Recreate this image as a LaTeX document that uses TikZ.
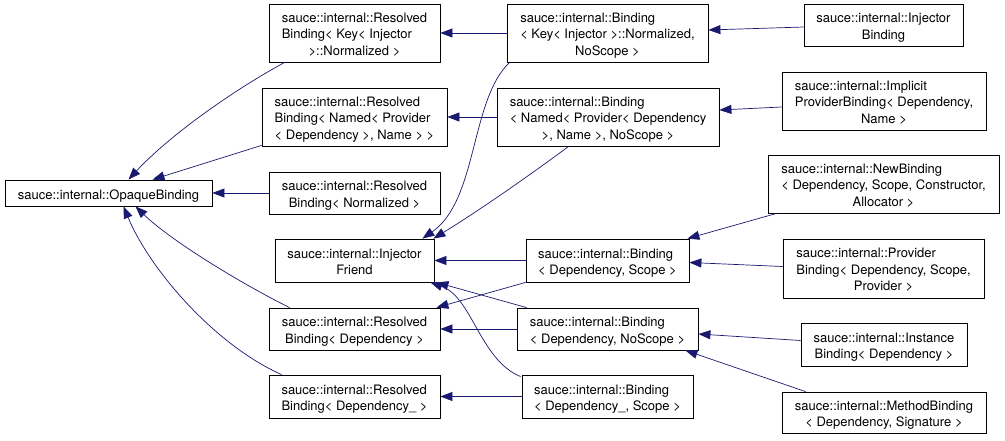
\documentclass[tikz,border=0pt]{standalone}
\usepackage{fontspec}
\setmainfont{TeX Gyre Heros}
\usepackage{tikz}
\usetikzlibrary{calc,arrows.meta}
\definecolor{edgeblue}{RGB}{25,25,112}
% first lines flush left, last line centred
\newcommand{\classlabel}[2]{\raisebox{-2.5pt}[\height][\depth]{\begin{tabular}{@{}l@{}}#1\\\multicolumn{1}{@{}c@{}}{#2}\end{tabular}}}
\tikzset{
  % Two styles for the graph: class boxes and inheritance edges
  class node/.style 2 args={rectangle,draw,fill=white,line width=0.8pt,inner sep=0,minimum width=#1,minimum height=#2},
  inherit/.style={draw=edgeblue,line width=0.7pt,-{Triangle[length=12pt,width=9pt]}}
}

\begin{document}
\begin{tikzpicture}[x=1pt,y=-1pt,font=\fontsize{13}{16.5}\selectfont]
  \useasboundingbox (0,0) rectangle (1005,441);
  % The classes
  \node(opq)[class node={207pt}{26pt}] at (108.5,193) {\raisebox{-3.5pt}[\height][\depth]{sauce::internal::OpaqueBinding}};
  \node(rbKey)[class node={171pt}{58pt}] at (354.5,33) {\classlabel{sauce::internal::Resolved\\Binding< Key< Injector}{>::Normalized >}};
  \node(rbNamed)[class node={185pt}{58pt}] at (354.5,117) {\classlabel{sauce::internal::Resolved\\Binding< Named< Provider}{< Dependency >, Name > >}};
  \node(rbNorm)[class node={171pt}{42pt}] at (354.5,193) {\classlabel{sauce::internal::Resolved}{Binding< Normalized >}};
  \node(injFriend)[class node={159pt}{43pt}] at (354.5,260.5) {\classlabel{sauce::internal::Injector}{Friend}};
  \node(rbDep)[class node={171pt}{42pt}] at (354.5,329) {\classlabel{sauce::internal::Resolved}{Binding< Dependency >}};
  \node(rbDepU)[class node={171pt}{43pt}] at (354.5,396.5) {\classlabel{sauce::internal::Resolved}{Binding< Dependency\_ >}};
  \node(bKey)[class node={201pt}{58pt}] at (607.5,33) {\classlabel{sauce::internal::Binding\\< Key< Injector >::Normalized,}{NoScope >}};
  \node(bNamed)[class node={222pt}{58pt}] at (608,117) {\classlabel{sauce::internal::Binding\\< Named< Provider< Dependency}{>, Name >, NoScope >}};
  \node(bDepScope)[class node={163pt}{43pt}] at (607.5,260.5) {\classlabel{sauce::internal::Binding}{< Dependency, Scope >}};
  \node(bDepNo)[class node={181pt}{42pt}] at (607.5,329) {\classlabel{sauce::internal::Binding}{< Dependency, NoScope >}};
  \node(bDepUScope)[class node={171pt}{43pt}] at (607.5,396.5) {\classlabel{sauce::internal::Binding}{< Dependency\_, Scope >}};
  \node(injBind)[class node={159pt}{42pt}] at (883.5,25) {\classlabel{sauce::internal::Injector}{Binding}};
  \node(implBind)[class node={204pt}{58pt}] at (884,101) {\classlabel{sauce::internal::Implicit\\ProviderBinding< Dependency,}{Name >}};
  \node(newBind)[class node={231pt}{58pt}] at (883.5,184) {\classlabel{sauce::internal::NewBinding\\< Dependency, Scope, Constructor,}{Allocator >}};
  \node(provBind)[class node={201pt}{59pt}] at (883.5,268.5) {\classlabel{sauce::internal::Provider\\Binding< Dependency, Scope,}{Provider >}};
  \node(instBind)[class node={166pt}{43pt}] at (884,344.5) {\classlabel{sauce::internal::Instance}{Binding< Dependency >}};
  \node(methBind)[class node={204pt}{41pt}] at (884,412.5) {\classlabel{sauce::internal::MethodBinding}{< Dependency, Signature >}};
  % base class OpaqueBinding
  \draw[inherit] ($(rbKey.south west)+(16,0)$) .. controls (225,95) and (165,140) .. ($(opq.north)+(20,0)$);
  \draw[inherit] ($(rbNamed.south west)+(0,-1)$) -- ($(opq.north)+(44,0)$);
  \draw[inherit] (rbNorm.west) -- (opq.east);
  \draw[inherit] ($(rbDep.north west)+(21,0)$) .. controls (240,283) and (170,240) .. ($(opq.south)+(27,0)$);
  \draw[inherit] ($(rbDepU.north west)+(13,0)$) .. controls (215,345) and (150,270) .. ($(opq.south)+(15,0)$);
  % the Binding classes
  \draw[inherit] (bKey.west) -- (rbKey.east);
  \draw[inherit] (bNamed.west) -- (rbNamed.east);
  \draw[inherit] ($(bKey.south west)+(3,0)$) .. controls (470,100) and (478,200) .. ($(injFriend.north east)+(-12,0)$);
  \draw[inherit] ($(bNamed.south west)+(72,0)$) .. controls (530,175) and (480,210) .. ($(injFriend.north east)+(-1,0)$);
  \draw[inherit] (bDepScope.west) -- (injFriend.east);
  \draw[inherit] (bDepScope.south west) -- ($(rbDep.north east)+(-4,0)$);
  \draw[inherit] ($(bDepNo.north west)+(10,0)$) -- ($(injFriend.south east)+(2,0)$);
  \draw[inherit] (bDepNo.west) -- (rbDep.east);
  \draw[inherit] ($(bDepUScope.north west)+(-1,2)$) .. controls (480,360) and (472,297) .. ($(injFriend.south east)+(-4,0)$);
  \draw[inherit] (bDepUScope.west) -- (rbDepU.east);
  % the leaves
  \draw[inherit] ($(injBind.west)+(0,2)$) -- ($(bKey.east)+(0,-3)$);
  \draw[inherit] ($(implBind.west)+(0,6)$) -- ($(bNamed.east)+(0,-7)$);
  \draw[inherit] ($(newBind.south west)+(9,0)$) -- ($(bDepScope.north east)+(-2,0)$);
  \draw[inherit] ($(provBind.west)+(0,-2)$) -- ($(bDepScope.east)+(0,2)$);
  \draw[inherit] ($(instBind.west)+(0,-4)$) -- ($(bDepNo.east)+(0,5)$);
  \draw[inherit] ($(methBind.north west)+(24,0)$) -- ($(bDepNo.south east)+(-13,0)$);
\end{tikzpicture}
\end{document}
